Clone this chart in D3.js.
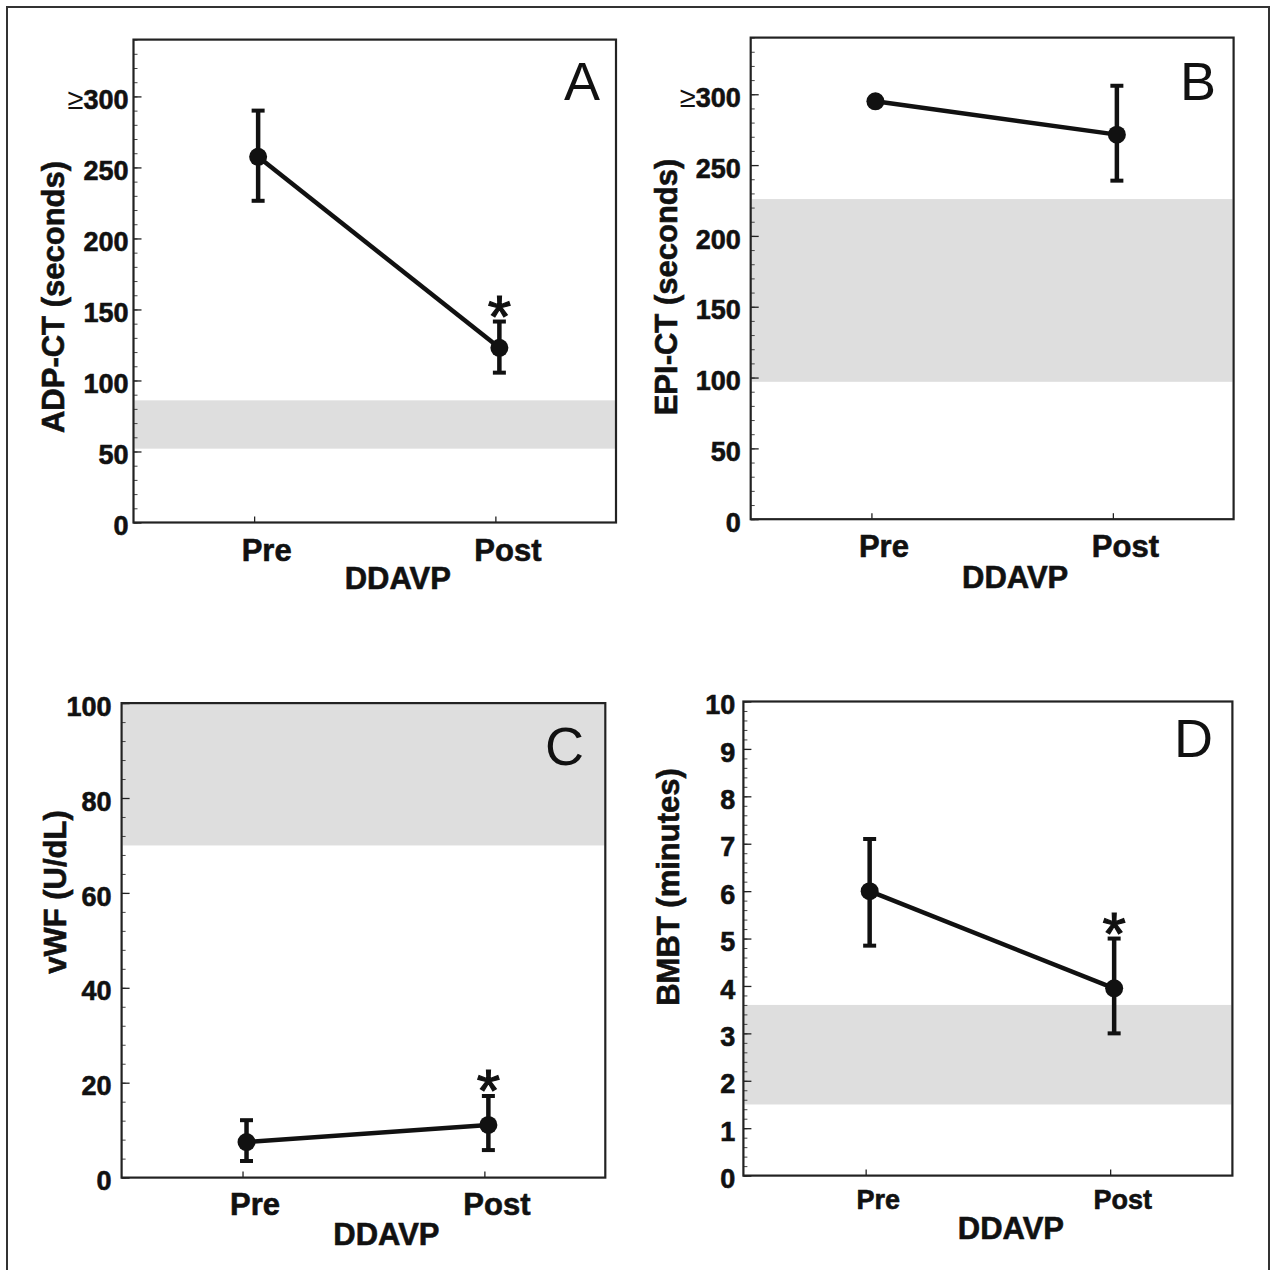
<!DOCTYPE html>
<html>
<head>
<meta charset="utf-8">
<script src="https://cdn.jsdelivr.net/npm/d3@7"></script>
<style>
  body { margin: 0; background: #fff; }
  svg { display: block; font-family: "Liberation Sans", Arial, Helvetica, sans-serif; }
  .heavy { stroke: #111; stroke-width: 0.6px; }
</style>
</head>
<body>
<svg width="1271" height="1270"></svg>
<script>
// data
const categories = ["Pre", "Post"];

const adpMean = [257.5, 123];
const adpLow = [226.5, 105.5];
const adpHigh = [290, 141.5];
const adpNormal = [52, 86];
const adpTicks = [0, 50, 100, 150, 200, 250, 300];

const epiMean = [295, 271.5];
const epiLow = [292.5, 239];
const epiHigh = [297.5, 306];
const epiNormal = [97, 226];
const epiTicks = [0, 50, 100, 150, 200, 250, 300];

const vwfMean = [7.5, 11.1];
const vwfLow = [3.5, 5.8];
const vwfHigh = [12.1, 17.2];
const vwfNormal = [70, 100];
const vwfTicks = [0, 20, 40, 60, 80, 100];

const bmbtMean = [6.0, 3.95];
const bmbtLow = [4.85, 3.0];
const bmbtHigh = [7.1, 5.0];
const bmbtNormal = [1.5, 3.6];
const bmbtTicks = [0, 1, 2, 3, 4, 5, 6, 7, 8, 9, 10];

// which category carries the significance star
const adpStar = [false, true];
const epiStar = [false, false];
const vwfStar = [false, true];
const bmbtStar = [false, true];

const panels = [
    { letter: "A", title: "ADP-CT (seconds)", mean: adpMean, low: adpLow, high: adpHigh, normal: adpNormal,
      ticks: adpTicks, minor: 10, domain: [0, 340], geq: 300, star: adpStar,
      x0: 133.5, x1: 616, y0: 39.6, y1: 522.5, gap: 5, titleX: 53, titleY: 297,
      letterX: 600, letterY: 100, labY: 38.5, labSize: 31, xTitleY: 66 },
    { letter: "B", title: "EPI-CT (seconds)", mean: epiMean, low: epiLow, high: epiHigh, normal: epiNormal,
      ticks: epiTicks, minor: 10, domain: [0, 340], geq: 300, star: epiStar,
      x0: 750.7, x1: 1233.6, y0: 37.6, y1: 519.2, gap: 10, titleX: 666, titleY: 287,
      letterX: 1216, letterY: 100, labY: 38, labSize: 31, xTitleY: 68.5 },
    { letter: "C", title: "vWF (U/dL)", mean: vwfMean, low: vwfLow, high: vwfHigh, normal: vwfNormal,
      ticks: vwfTicks, minor: 4, domain: [0, 100], geq: null, star: vwfStar,
      x0: 121.6, x1: 605.3, y0: 703.1, y1: 1177.6, gap: 10, titleX: 55, titleY: 892,
      letterX: 584, letterY: 764.5, labY: 37, labSize: 31, xTitleY: 67 },
    { letter: "D", title: "BMBT (minutes)", mean: bmbtMean, low: bmbtLow, high: bmbtHigh, normal: bmbtNormal,
      ticks: bmbtTicks, minor: 0.2, domain: [0, 10], geq: null, star: bmbtStar,
      x0: 743.4, x1: 1232.4, y0: 701.5, y1: 1175.6, gap: 8, titleX: 668, titleY: 887,
      letterX: 1213, letterY: 756.5, labY: 33, labSize: 27, xTitleY: 63 }
];

let svg = d3.select("svg");

// outer frame (bottom edge falls outside the picture)
svg.append("rect")
    .attr("x", 7).attr("y", 7)
    .attr("width", 1262).attr("height", 1275)
    .attr("fill", "none")
    .attr("stroke", "#333")
    .attr("stroke-width", 2);

panels.forEach(drawPanel);

function drawPanel(p) {
    let dotShift = 4,
        labShift = 12;

    let x = d3.scalePoint()
        .domain(categories)
        .range([p.x0, p.x1])
        .padding(0.5);

    let y = d3.scaleLinear()
        .domain(p.domain)
        .range([p.y1, p.y0]);

    let g = svg.append("g").attr("class", "panel");

    // normal range band
    g.append("rect")
        .attr("x", p.x0 + 1)
        .attr("y", y(p.normal[1]))
        .attr("width", p.x1 - p.x0 - 2)
        .attr("height", y(p.normal[0]) - y(p.normal[1]))
        .attr("fill", "#dedede");

    // minor ticks
    let minorVals = d3.range(p.domain[0], p.domain[1] + p.minor / 2, p.minor)
        .map(v => +v.toFixed(4));
    let minorAxis = g.append("g")
        .attr("transform", `translate(${p.x0},0)`)
        .call(d3.axisLeft(y).tickValues(minorVals).tickSize(-4).tickFormat(""));
    minorAxis.select(".domain").remove();
    minorAxis.selectAll("line").attr("stroke", "#444").attr("stroke-width", 1);

    // major ticks + labels
    let yAxis = g.append("g")
        .attr("transform", `translate(${p.x0},0)`)
        .call(d3.axisLeft(y).tickValues(p.ticks).tickSize(-8).tickPadding(p.gap));
    yAxis.select(".domain").remove();
    yAxis.attr("font-family", null).attr("font-size", null);
    yAxis.selectAll("line").attr("stroke", "#222").attr("stroke-width", 1.3);
    yAxis.selectAll("text")
        .attr("class", "heavy")
        .attr("font-size", 27)
        .attr("font-weight", "bold")
        .attr("fill", "#111")
        .attr("dy", "0.45em");

    if (p.geq !== null) {
        let t = yAxis.selectAll(".tick").filter(d => d === p.geq).select("text");
        t.text(null);
        t.append("tspan").attr("font-weight", "normal").attr("font-size", 29)
            .attr("stroke-width", 0).text("≥");
        t.append("tspan").text(p.geq);
    }

    // x axis ticks + labels
    let xAxis = g.append("g")
        .attr("transform", `translate(0,${p.y1})`)
        .call(d3.axisBottom(x).tickSize(-6));
    xAxis.select(".domain").remove();
    xAxis.attr("font-family", null).attr("font-size", null);
    xAxis.selectAll("line").attr("stroke", "#222").attr("stroke-width", 1.3);
    xAxis.selectAll("text")
        .attr("class", "heavy")
        .attr("y", p.labY)
        .attr("dy", null)
        .attr("dx", labShift)
        .attr("font-size", p.labSize)
        .attr("font-weight", "bold")
        .attr("fill", "#111");

    // plot box
    g.append("rect")
        .attr("x", p.x0).attr("y", p.y0)
        .attr("width", p.x1 - p.x0).attr("height", p.y1 - p.y0)
        .attr("fill", "none")
        .attr("stroke", "#222")
        .attr("stroke-width", 2.2);

    // axis titles
    g.append("text")
        .attr("class", "heavy")
        .attr("transform", `translate(${p.titleX},${p.titleY}) rotate(-90)`)
        .attr("text-anchor", "middle")
        .attr("dy", "0.36em")
        .attr("font-size", 31)
        .attr("font-weight", "bold")
        .attr("fill", "#111")
        .text(p.title);

    g.append("text")
        .attr("class", "heavy")
        .attr("x", (p.x0 + p.x1) / 2 + 23)
        .attr("y", p.y1 + p.xTitleY)
        .attr("text-anchor", "middle")
        .attr("font-size", 31)
        .attr("font-weight", "bold")
        .attr("fill", "#111")
        .text("DDAVP");

    // panel letter
    g.append("text")
        .attr("x", p.letterX)
        .attr("y", p.letterY)
        .attr("text-anchor", "end")
        .attr("font-size", 54)
        .attr("fill", "#111")
        .text(p.letter);

    // series
    let pts = categories.map((c, i) => ({
        cat: c, mean: p.mean[i], low: p.low[i], high: p.high[i], star: p.star[i]
    }));

    let line = d3.line()
        .x(d => x(d.cat) + dotShift)
        .y(d => y(d.mean));

    g.append("path")
        .datum(pts)
        .attr("d", line)
        .attr("fill", "none")
        .attr("stroke", "#111")
        .attr("stroke-width", 4.5);

    let err = g.append("g").selectAll("g")
        .data(pts)
        .enter().append("g")
        .attr("transform", d => `translate(${x(d.cat) + dotShift},0)`);

    err.append("line")
        .attr("y1", d => y(d.low))
        .attr("y2", d => y(d.high))
        .attr("stroke", "#111")
        .attr("stroke-width", 4.5);

    err.selectAll(".cap")
        .data(d => [d.low, d.high])
        .enter().append("line")
        .attr("class", "cap")
        .attr("x1", -6.5).attr("x2", 6.5)
        .attr("y1", v => y(v)).attr("y2", v => y(v))
        .attr("stroke", "#111")
        .attr("stroke-width", 4);

    err.append("circle")
        .attr("cy", d => y(d.mean))
        .attr("r", 9)
        .attr("fill", "#111");

    err.filter(d => d.star)
        .append("text")
        .attr("y", d => y(d.high) - 18)
        .attr("dy", "0.55em")
        .attr("text-anchor", "middle")
        .attr("font-size", 60)
        .attr("fill", "#111")
        .attr("stroke", "#111")
        .attr("stroke-width", 1.2)
        .text("*");
}
</script>
</body>
</html>
